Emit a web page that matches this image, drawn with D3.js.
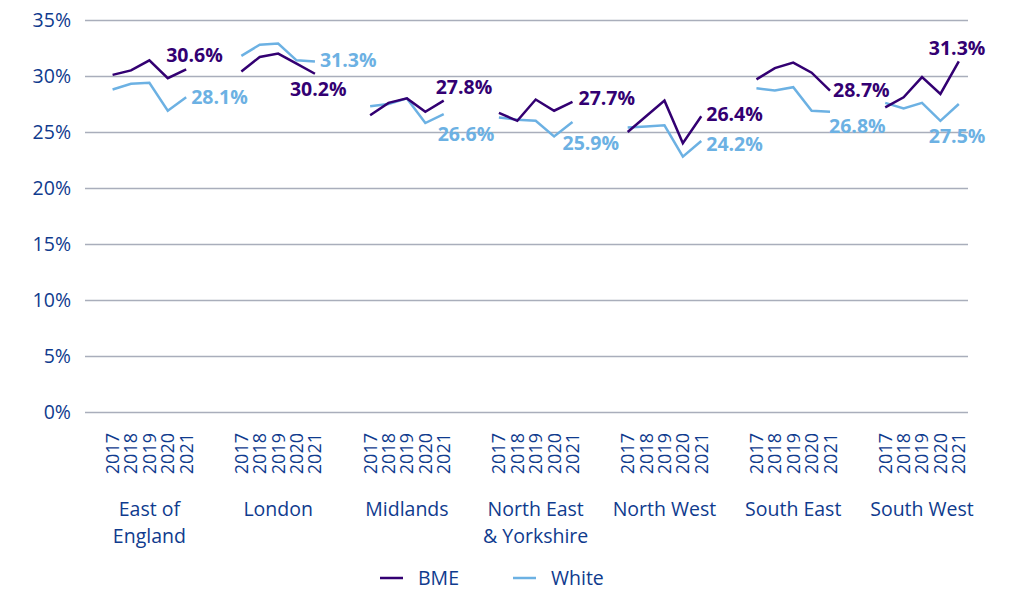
<!DOCTYPE html>
<html>
<head>
<meta charset="utf-8">
<title>BME and White by region</title>
<style>
  body { margin: 0; background: #fff; }
  text { font-family: "Open Sans", sans-serif; }
</style>
</head>
<body>
<svg width="1012" height="590"></svg>
<script src="https://d3js.org/d3.v7.min.js"></script>
<script>

    var regions = ["East of England", "London", "Midlands", "North East & Yorkshire", "North West", "South East", "South West"];
    var regionLines = [["East of", "England"], ["London"], ["Midlands"], ["North East", "& Yorkshire"], ["North West"], ["South East"], ["South West"]];
    var years = ["2017", "2018", "2019", "2020", "2021"];

    var bme = [
        [30.1, 30.5, 31.4, 29.8, 30.6],
        [30.4, 31.7, 32.0, 31.1, 30.2],
        [26.5, 27.6, 28.0, 26.8, 27.8],
        [26.7, 26.0, 27.9, 26.9, 27.7],
        [25.0, 26.4, 27.8, 24.0, 26.4],
        [29.7, 30.7, 31.2, 30.3, 28.7],
        [27.2, 28.1, 29.9, 28.4, 31.3]
    ];
    var white = [
        [28.8, 29.3, 29.4, 26.9, 28.1],
        [31.8, 32.8, 32.9, 31.4, 31.3],
        [27.3, 27.5, 28.0, 25.8, 26.6],
        [26.3, 26.1, 26.0, 24.6, 25.9],
        [25.4, 25.5, 25.6, 22.8, 24.2],
        [28.9, 28.7, 29.0, 26.9, 26.8],
        [27.6, 27.1, 27.6, 26.0, 27.5]
    ];
    var yTicks = [0, 5, 10, 15, 20, 25, 30, 35];

    // where the end labels sit, relative to the last point
    var bmeLabelOffset = [[-20, -14], [-25, 15], [-8, -13], [6, -4], [5, -2], [3, 0], [-30, -13]];
    var whiteLabelOffset = [[5, 0], [5, -1], [-6, 20], [-10, 21], [5, 3], [-1, 14], [-30, 32]];

    var colors = { bme: "#330072", white: "#6cb1e3" };
    var textBlue = "#0f3b8e";

    var svg = d3.select("svg"),
        margin = { top: 20, right: 44, bottom: 178, left: 85 },
        width = +svg.attr("width") - margin.left - margin.right,
        height = +svg.attr("height") - margin.top - margin.bottom,
        g = svg.append("g").attr("transform", "translate(" + margin.left + "," + margin.top + ")");

    // category slots: a blank before and after each region's five years
    var slots = [];
    regions.forEach(function (r, i) {
        slots.push("gapA" + i);
        years.forEach(function (yr) { slots.push(r + "|" + yr); });
        if (i < regions.length - 1) slots.push("gapB" + i);
    });

    var x = d3.scaleBand().domain(slots).range([0, width]);
    var cx = function (r, yr) { return x(r + "|" + yr) + x.bandwidth() / 2; };

    var y = d3.scaleLinear().domain([0, 35]).range([height, 0]);

    // gridlines + y ticks
    var yAxis = g.append("g")
        .call(d3.axisLeft(y).tickValues(yTicks).tickSize(-width).tickPadding(14)
            .tickFormat(function (d) { return d + "%"; }));
    yAxis.select(".domain").remove();
    yAxis.selectAll(".tick line").attr("stroke", "#a9aebb").attr("stroke-width", 1.5);
    yAxis.selectAll(".tick text").attr("fill", textBlue).style("font-size", "19.5px");

    var line = d3.line()
        .x(function (d) { return cx(d.region, d.year); })
        .y(function (d) { return y(d.value); });

    function seriesData(vals, i) {
        return years.map(function (yr, j) { return { region: regions[i], year: yr, value: vals[j] }; });
    }

    [["white", white, whiteLabelOffset], ["bme", bme, bmeLabelOffset]].forEach(function (s) {
        var key = s[0], vals = s[1], offs = s[2];
        vals.forEach(function (v, i) {
            var data = seriesData(v, i);
            g.append("path")
                .datum(data)
                .attr("fill", "none")
                .attr("stroke", colors[key])
                .attr("stroke-width", 2.5)
                .attr("d", line);
            var last = data[data.length - 1];
            g.append("text")
                .attr("x", cx(last.region, last.year) + offs[i][0])
                .attr("y", y(last.value) + offs[i][1])
                .attr("dy", "0.35em")
                .attr("fill", colors[key])
                .style("font-size", "19.5px")
                .style("font-weight", "700")
                .text(d3.format(".1f")(last.value) + "%");
        });
    });

    // year labels, rotated
    regions.forEach(function (r) {
        years.forEach(function (yr) {
            g.append("text")
                .attr("transform", "translate(" + cx(r, yr) + "," + (height + 21) + ") rotate(-90)")
                .attr("text-anchor", "end")
                .attr("dy", "0.36em")
                .attr("fill", textBlue)
                .style("font-size", "18px")
                .text(yr);
        });
    });

    // region labels
    regions.forEach(function (r, i) {
        var t = g.append("text")
            .attr("text-anchor", "middle")
            .attr("fill", textBlue)
            .style("font-size", "19.5px");
        regionLines[i].forEach(function (ln, k) {
            t.append("tspan")
                .attr("x", cx(r, "2019"))
                .attr("y", height + 104 + k * 27)
                .text(ln);
        });
    });

    // legend
    var legend = svg.append("g").attr("transform", "translate(380,578)");
    [["BME", colors.bme, 0], ["White", colors.white, 133]].forEach(function (l) {
        var lg = legend.append("g").attr("transform", "translate(" + l[2] + ",0)");
        lg.append("line").attr("x1", 0).attr("x2", 23).attr("stroke", l[1]).attr("stroke-width", 2.5);
        lg.append("text").attr("x", 38).attr("dy", "0.35em").attr("fill", textBlue)
            .style("font-size", "19.5px").text(l[0]);
    });

</script>
</body>
</html>
